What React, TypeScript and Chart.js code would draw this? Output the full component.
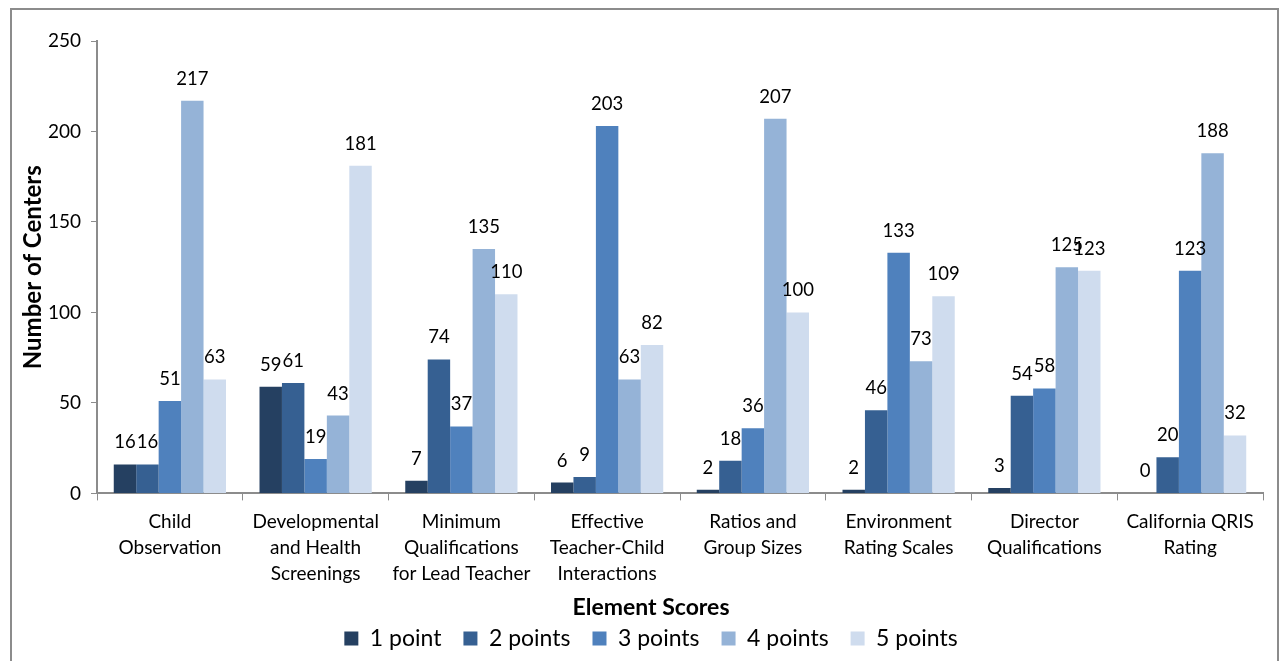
import React, { useEffect, useRef } from "react";
import { Chart, registerables } from "chart.js";

Chart.register(...registerables);

const categories: string[][] = [
  ["Child", "Observation"],
  ["Developmental", "and Health", "Screenings"],
  ["Minimum", "Qualifications", "for Lead Teacher"],
  ["Effective", "Teacher-Child", "Interactions"],
  ["Ratios and", "Group Sizes"],
  ["Environment", "Rating Scales"],
  ["Director", "Qualifications"],
  ["California QRIS", "Rating"],
];

const seriesNames = ["1 point", "2 points", "3 points", "4 points", "5 points"];
const onePoint = [16, 59, 7, 6, 2, 2, 3, 0];
const twoPoints = [16, 61, 74, 9, 18, 46, 54, 20];
const threePoints = [51, 19, 37, 203, 36, 133, 58, 123];
const fourPoints = [217, 43, 135, 63, 207, 73, 125, 188];
const fivePoints = [63, 181, 110, 82, 100, 109, 123, 32];
const colors = ["#254061", "#366092", "#4F81BD", "#95B3D7", "#CFDCEE"];

const yTicks = [0, 50, 100, 150, 200, 250];

const FONT = "Lato, 'Liberation Sans', sans-serif";

const dataLabelPlugin = {
  id: "dataLabels",
  afterDatasetsDraw(chart: any) {
    const ctx = chart.ctx;
    ctx.save();
    ctx.font = `18.5px ${FONT}`;
    ctx.fillStyle = "#000";
    ctx.textAlign = "center";
    ctx.textBaseline = "alphabetic";
    chart.data.datasets.forEach((ds: any, i: number) => {
      const meta = chart.getDatasetMeta(i);
      meta.data.forEach((el: any, j: number) => {
        ctx.fillText(String(ds.data[j]), el.x, el.y - 16);
      });
    });
    ctx.restore();
  },
};

export default function App() {
  const ref = useRef<HTMLCanvasElement>(null);
  useEffect(() => {
    if (!ref.current) return;
    const allSeries = [onePoint, twoPoints, threePoints, fourPoints, fivePoints];
    const chart = new Chart(ref.current, {
      type: "bar",
      data: {
        labels: categories,
        datasets: allSeries.map((d, i) => ({
          label: seriesNames[i],
          data: d,
          backgroundColor: colors[i],
          borderWidth: 0,
          barPercentage: 1,
          categoryPercentage: 0.77,
        })),
      },
      options: {
        responsive: false,
        animation: false,
        devicePixelRatio: 1,
        layout: { padding: { left: 39, right: 17, top: 41, bottom: 1 } },
        plugins: {
          tooltip: { enabled: false },
          legend: {
            position: "bottom",
            title: {
              display: true,
              text: "Element Scores",
              color: "#000",
              font: { family: FONT, size: 23, weight: "bold" },
              padding: { top: 0, bottom: -19 },
            },
            labels: {
              color: "#000",
              boxWidth: 14,
              boxHeight: 14,
              padding: 22,
              font: { family: FONT, size: 23 },
            },
          },
        },
        scales: {
          x: {
            afterFit: (s: any) => {
              s.height = 103;
            },
            grid: {
              drawOnChartArea: false,
              drawTicks: true,
              tickLength: 7,
              color: "#8c8c8c",
              offset: true,
            },
            border: { color: "#8c8c8c", width: 2 },
            ticks: {
              color: "#000",
              font: { family: FONT, size: 19, lineHeight: 1.37 },
              maxRotation: 0,
              autoSkip: false,
              padding: 8,
            },
          },
          y: {
            min: 0,
            max: 250,
            afterFit: (s: any) => {
              s.width = 58;
            },
            afterBuildTicks: (s: any) => {
              s.ticks = yTicks.map((v) => ({ value: v }));
            },
            title: {
              display: true,
              text: "Number of Centers",
              color: "#000",
              font: { family: FONT, size: 24, weight: "bold" },
              padding: { top: -20, bottom: 0 },
            },
            grid: {
              drawOnChartArea: false,
              drawTicks: true,
              tickLength: 6,
              color: "#8c8c8c",
            },
            border: { color: "#8c8c8c", width: 2 },
            ticks: {
              color: "#000",
              font: { family: FONT, size: 19 },
              padding: 10,
            },
          },
        },
      },
      plugins: [dataLabelPlugin],
    });
    return () => chart.destroy();
  }, []);

  return (
    <div style={{ position: "fixed", left: 0, top: 0, width: 1280, height: 661, background: "#fff" }}>
      <div
        style={{
          position: "absolute",
          left: 10,
          top: 8,
          width: 1269,
          height: 720,
          border: "2px solid #8c8c8c",
          boxSizing: "border-box",
        }}
      />
      <canvas ref={ref} width={1280} height={661} style={{ position: "absolute", left: 0, top: 0 }} />
    </div>
  );
}
